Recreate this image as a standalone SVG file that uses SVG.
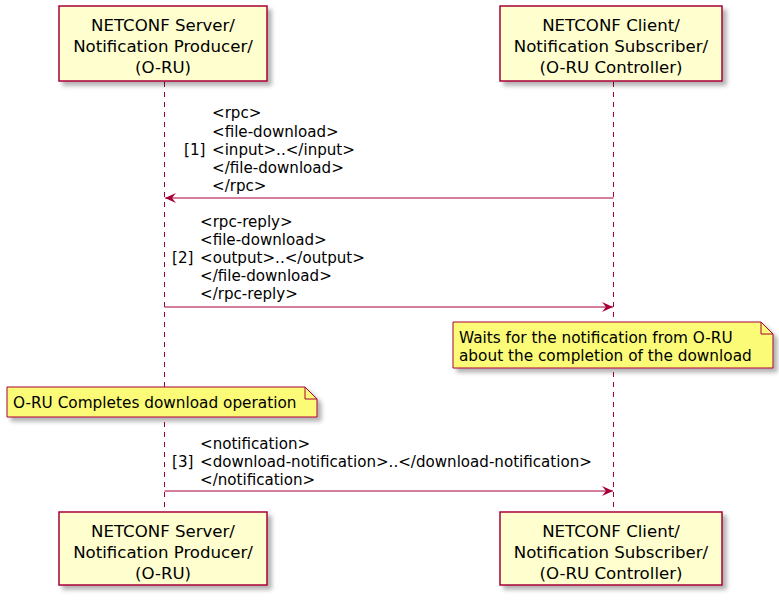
<svg xmlns="http://www.w3.org/2000/svg" width="779" height="600" viewBox="0 0 779 600">
<defs>
<filter id="sh" x="-10%" y="-10%" width="130%" height="140%">
<feDropShadow dx="4" dy="4" stdDeviation="2" flood-color="#000" flood-opacity="0.3"/>
</filter>
<marker id="ah" markerWidth="12" markerHeight="10" refX="11" refY="5" orient="auto" markerUnits="userSpaceOnUse">
<path d="M0,0 L11,5 L0,10 L4,5 Z" fill="#A80036"/>
</marker>
</defs>
<style>
.box{fill:#FEFECE;stroke:#A80036;stroke-width:1.5;filter:url(#sh)}
.note{fill:#FBFB77;stroke:#A80036;stroke-width:1;filter:url(#sh)}
.fold{fill:none;stroke:#A80036;stroke-width:1}
.life{stroke:#A80036;stroke-width:1;stroke-dasharray:5,5}
.msg{stroke:#A80036;stroke-width:1.2;marker-end:url(#ah)}
text{font-family:"DejaVu Sans",sans-serif;fill:#000}
.pt{font-size:16.6px;text-anchor:middle}
.mt{font-size:15.1px}
.nt{font-size:15.3px}
</style>
<g id="lifelines">
<line class="life" x1="164.5" y1="82" x2="164.5" y2="512"/>
<line class="life" x1="613.5" y1="82" x2="613.5" y2="512"/>
</g>
<g id="server-top">
<rect class="box" x="59" y="6" width="208" height="75"/>
<text class="pt" x="163" y="31">NETCONF Server/</text>
<text class="pt" x="163" y="52">Notification Producer/</text>
<text class="pt" x="163" y="73">(O-RU)</text>
</g>
<g id="client-top">
<rect class="box" x="500" y="6" width="222" height="75"/>
<text class="pt" x="611" y="31">NETCONF Client/</text>
<text class="pt" x="611" y="52">Notification Subscriber/</text>
<text class="pt" x="611" y="73">(O-RU Controller)</text>
</g>
<g id="connectors">
<line class="msg" x1="613.5" y1="198" x2="165" y2="198"/>
<line class="msg" x1="164.5" y1="307" x2="613" y2="307"/>
<line class="msg" x1="164.5" y1="491" x2="613" y2="491"/>
</g>
<g id="msg1-label">
<text class="mt" x="212" y="118">&lt;rpc&gt;</text>
<text class="mt" x="212" y="137">&lt;file-download&gt;</text>
<text class="mt" x="184" y="155">[1]</text>
<text class="mt" x="212" y="155">&lt;input&gt;..&lt;/input&gt;</text>
<text class="mt" x="212" y="173">&lt;/file-download&gt;</text>
<text class="mt" x="212" y="191">&lt;/rpc&gt;</text>
</g>
<g id="msg2-label">
<text class="mt" x="200" y="227">&lt;rpc-reply&gt;</text>
<text class="mt" x="200" y="245">&lt;file-download&gt;</text>
<text class="mt" x="172" y="263">[2]</text>
<text class="mt" x="200" y="263">&lt;output&gt;..&lt;/output&gt;</text>
<text class="mt" x="200" y="281">&lt;/file-download&gt;</text>
<text class="mt" x="200" y="299">&lt;/rpc-reply&gt;</text>
</g>
<g id="note-wait">
<path class="note" d="M453,322 L761,322 L773,334 L773,368 L453,368 Z"/>
<path class="fold" d="M761,322 L761,334 L773,334"/>
<text class="nt" x="459" y="343">Waits for the notification from O-RU</text>
<text class="nt" x="459" y="361">about the completion of the download</text>
</g>
<g id="note-complete">
<path class="note" d="M7,387 L305,387 L317,399 L317,417 L7,417 Z"/>
<path class="fold" d="M305,387 L305,399 L317,399"/>
<text class="nt" x="13" y="408">O-RU Completes download operation</text>
</g>
<g id="msg3-label">
<text class="mt" x="200" y="449">&lt;notification&gt;</text>
<text class="mt" x="172" y="467">[3]</text>
<text class="mt" x="200" y="467">&lt;download-notification&gt;..&lt;/download-notification&gt;</text>
<text class="mt" x="200" y="485">&lt;/notification&gt;</text>
</g>
<g id="server-bottom">
<rect class="box" x="59" y="512" width="208" height="73"/>
<text class="pt" x="163" y="537">NETCONF Server/</text>
<text class="pt" x="163" y="558">Notification Producer/</text>
<text class="pt" x="163" y="579">(O-RU)</text>
</g>
<g id="client-bottom">
<rect class="box" x="500" y="512" width="222" height="73"/>
<text class="pt" x="611" y="537">NETCONF Client/</text>
<text class="pt" x="611" y="558">Notification Subscriber/</text>
<text class="pt" x="611" y="579">(O-RU Controller)</text>
</g>
</svg>
